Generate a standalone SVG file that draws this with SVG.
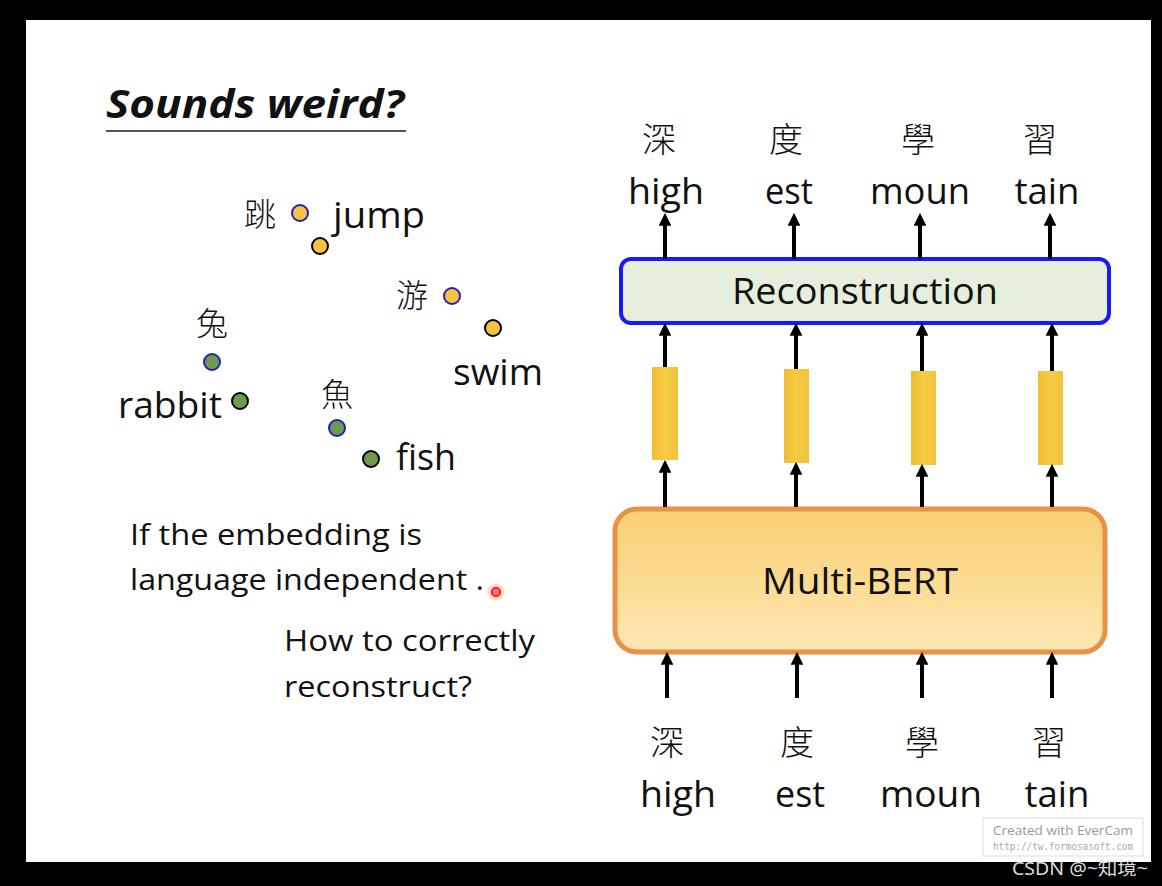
<svg xmlns="http://www.w3.org/2000/svg" width="1162" height="886" viewBox="0 0 1162 886">
<defs>
<style>
.t{font-family:"Open Sans","Noto Sans","Noto Sans CJK TC",sans-serif;fill:#111}
.cj{font-family:"Noto Sans CJK TC","Noto Sans CJK SC",sans-serif;fill:#111;font-weight:300}
.arr{stroke:#000;stroke-width:4;fill:none;marker-end:url(#ah)}
.dY{fill:#f7c240;stroke:#000;stroke-width:2}
.dYb{fill:#f7c240;stroke:#2020c0;stroke-width:2}
.dG{fill:#6e9a4e;stroke:#000;stroke-width:2}
.dGb{fill:#6e9a4e;stroke:#2020c0;stroke-width:2}
.bar{fill:url(#barg)}
</style>
<marker id="ah" viewBox="0 0 10 10" refX="6" refY="5" markerWidth="3.2" markerHeight="3.2" orient="auto">
<path d="M0,0 L10,5 L0,10 z" fill="#000"/>
</marker>
<linearGradient id="barg" x1="0" y1="0" x2="1" y2="0">
<stop offset="0" stop-color="#efbd33"/>
<stop offset="0.5" stop-color="#f7cb45"/>
<stop offset="1" stop-color="#f2c23c"/>
</linearGradient>
<linearGradient id="bertg" x1="0" y1="0" x2="0" y2="1">
<stop offset="0" stop-color="#f9cf72"/>
<stop offset="1" stop-color="#fde7b2"/>
</linearGradient>
<radialGradient id="red">
<stop offset="0" stop-color="#ff4a30" stop-opacity="0.9"/>
<stop offset="1" stop-color="#ff8070" stop-opacity="0"/>
</radialGradient>
</defs>
<rect x="0" y="0" width="1162" height="886" fill="#000"/>
<rect x="26" y="20" width="1125" height="842" fill="#fff"/>

<g id="title">
<text x="106" y="118" class="t" font-size="40" font-weight="700" font-style="italic" textLength="298" lengthAdjust="spacingAndGlyphs">Sounds weird?</text>
<line x1="106" y1="131" x2="406" y2="131" stroke="#555" stroke-width="2"/>
</g>

<g id="embedding">
<g id="jump">
<text x="260" y="226" class="cj" font-size="32" text-anchor="middle">跳</text>
<circle cx="300" cy="213" r="8" class="dYb"/>
<circle cx="320" cy="246" r="8" class="dY"/>
<text x="333" y="228" class="t" font-size="36" textLength="92" lengthAdjust="spacingAndGlyphs">jump</text>
</g>
<g id="swim">
<text x="412" y="307" class="cj" font-size="32" text-anchor="middle">游</text>
<circle cx="452" cy="296" r="8" class="dYb"/>
<circle cx="493" cy="328" r="8" class="dY"/>
<text x="453" y="385" class="t" font-size="36" textLength="90" lengthAdjust="spacingAndGlyphs">swim</text>
</g>
<g id="rabbit">
<text x="212" y="335" class="cj" font-size="32" text-anchor="middle">兔</text>
<circle cx="212" cy="362" r="8" class="dGb"/>
<circle cx="240" cy="401" r="8" class="dG"/>
<text x="118" y="418" class="t" font-size="36" textLength="104" lengthAdjust="spacingAndGlyphs">rabbit</text>
</g>
<g id="fish">
<text x="337" y="406" class="cj" font-size="32" text-anchor="middle">魚</text>
<circle cx="337" cy="428" r="8" class="dGb"/>
<circle cx="371" cy="459" r="8" class="dG"/>
<text x="396" y="470" class="t" font-size="36" textLength="60" lengthAdjust="spacingAndGlyphs">fish</text>
</g>
</g>

<g id="notes">
<text x="130" y="545" class="t" font-size="30" textLength="292" lengthAdjust="spacingAndGlyphs">If the embedding is</text>
<text x="130" y="590" class="t" font-size="30" textLength="354" lengthAdjust="spacingAndGlyphs">language independent .</text>
<circle cx="496" cy="592" r="10" fill="url(#red)"/>
<circle cx="496" cy="592" r="4" fill="none" stroke="#e8281a" stroke-width="2.2"/>
<text x="284" y="651" class="t" font-size="30" textLength="251" lengthAdjust="spacingAndGlyphs">How to correctly</text>
<text x="284" y="697" class="t" font-size="30" textLength="188" lengthAdjust="spacingAndGlyphs">reconstruct?</text>
</g>

<g id="outputs">
<text x="659" y="152" class="cj" font-size="34" text-anchor="middle">深</text>
<text x="786" y="152" class="cj" font-size="34" text-anchor="middle">度</text>
<text x="918" y="152" class="cj" font-size="34" text-anchor="middle">學</text>
<text x="1040" y="152" class="cj" font-size="34" text-anchor="middle">習</text>
<text x="666" y="204" class="t" font-size="36" text-anchor="middle" textLength="76" lengthAdjust="spacingAndGlyphs">high</text>
<text x="789" y="204" class="t" font-size="36" text-anchor="middle" textLength="48" lengthAdjust="spacingAndGlyphs">est</text>
<text x="920" y="204" class="t" font-size="36" text-anchor="middle" textLength="100" lengthAdjust="spacingAndGlyphs">moun</text>
<text x="1047" y="204" class="t" font-size="36" text-anchor="middle" textLength="65" lengthAdjust="spacingAndGlyphs">tain</text>
</g>

<g id="reconstruction">
<rect x="621" y="259" width="488" height="64" rx="10" fill="#e6eedd" stroke="#1a1af5" stroke-width="4"/>
<text x="865" y="304" class="t" font-size="36" text-anchor="middle" textLength="266" lengthAdjust="spacingAndGlyphs">Reconstruction</text>
</g>

<g id="vectors">
<rect x="652" y="367" width="26" height="93" class="bar"/>
<rect x="784" y="369" width="25" height="94" class="bar"/>
<rect x="911" y="371" width="25" height="94" class="bar"/>
<rect x="1038" y="371" width="25" height="94" class="bar"/>
</g>

<g id="multibert">
<rect x="615" y="509" width="490" height="143" rx="22" fill="url(#bertg)" stroke="#e89248" stroke-width="5"/>
<text x="860" y="594" class="t" font-size="36" text-anchor="middle" textLength="196" lengthAdjust="spacingAndGlyphs">Multi-BERT</text>
</g>

<g id="inputs">
<text x="667" y="755" class="cj" font-size="34" text-anchor="middle">深</text>
<text x="797" y="755" class="cj" font-size="34" text-anchor="middle">度</text>
<text x="922" y="755" class="cj" font-size="34" text-anchor="middle">學</text>
<text x="1049" y="755" class="cj" font-size="34" text-anchor="middle">習</text>
<text x="678" y="807" class="t" font-size="36" text-anchor="middle" textLength="76" lengthAdjust="spacingAndGlyphs">high</text>
<text x="800" y="807" class="t" font-size="36" text-anchor="middle" textLength="50" lengthAdjust="spacingAndGlyphs">est</text>
<text x="931" y="807" class="t" font-size="36" text-anchor="middle" textLength="102" lengthAdjust="spacingAndGlyphs">moun</text>
<text x="1057" y="807" class="t" font-size="36" text-anchor="middle" textLength="65" lengthAdjust="spacingAndGlyphs">tain</text>
</g>

<g id="connectors">
<line x1="665" y1="259" x2="665" y2="218" class="arr"/>
<line x1="794" y1="259" x2="794" y2="218" class="arr"/>
<line x1="920" y1="259" x2="920" y2="218" class="arr"/>
<line x1="1050" y1="259" x2="1050" y2="218" class="arr"/>

<line x1="665" y1="367" x2="665" y2="328" class="arr"/>
<line x1="796" y1="369" x2="796" y2="328" class="arr"/>
<line x1="922" y1="371" x2="922" y2="328" class="arr"/>
<line x1="1052" y1="371" x2="1052" y2="328" class="arr"/>

<line x1="665" y1="507" x2="665" y2="465" class="arr"/>
<line x1="796" y1="507" x2="796" y2="467" class="arr"/>
<line x1="922" y1="507" x2="922" y2="469" class="arr"/>
<line x1="1052" y1="507" x2="1052" y2="469" class="arr"/>

<line x1="667" y1="698" x2="667" y2="657" class="arr"/>
<line x1="797" y1="698" x2="797" y2="657" class="arr"/>
<line x1="922" y1="698" x2="922" y2="657" class="arr"/>
<line x1="1052" y1="698" x2="1052" y2="657" class="arr"/>
</g>

<g id="watermark">
<rect x="983" y="818" width="160" height="38" fill="#fff" stroke="#ddd" stroke-width="1"/>
<text x="993" y="835" font-family="Open Sans,sans-serif" font-size="12.5" fill="#999" textLength="140" lengthAdjust="spacingAndGlyphs">Created with EverCam</text>
<text x="993" y="850" font-family="DejaVu Sans Mono,monospace" font-size="10" fill="#aaa" textLength="140" lengthAdjust="spacingAndGlyphs">http://tw.formosasoft.com</text>
<text x="1012" y="875" font-family="Noto Sans,Noto Sans CJK SC,sans-serif" font-size="18" fill="#ddd" textLength="136" lengthAdjust="spacingAndGlyphs">CSDN @~知境~</text>
</g>
</svg>
